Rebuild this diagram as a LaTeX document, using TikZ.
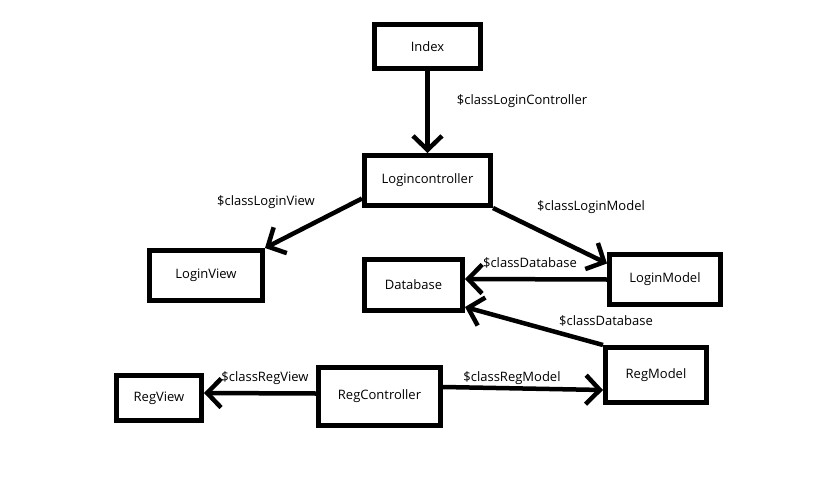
\documentclass[tikz,border=0pt]{standalone}
\usepackage{fontspec}
\setmainfont{Open Sans}
\usetikzlibrary{arrows.meta,calc}
\begin{document}
\begin{tikzpicture}[x=1pt,y=-1pt,
  box/.style={draw,line width=5pt,inner sep=0pt,font=\fontsize{13}{15}\selectfont},
  lbl/.style={inner sep=0pt,font=\fontsize{13}{15}\selectfont},
  conn/.style={line width=4.5pt,-{Straight Barb[length=14pt,width=29pt,line width=4.5pt]}}]
\useasboundingbox[fill=white] (0,0) rectangle (814,479);
\node[box,minimum width=106pt,minimum height=44pt] (idx) at (427.5,46.5) {Index};
\node[box,minimum width=126pt,minimum height=50pt] (lc) at (427.5,180.5) {Logincontroller};
\node[box,minimum width=113pt,minimum height=50pt] (lv) at (206,275.5) {LoginView};
\node[box,minimum width=98pt,minimum height=51pt] (db) at (413.5,285) {Database};
\node[box,minimum width=111pt,minimum height=50pt] (lm) at (665,279.5) {LoginModel};
\node[box,minimum width=101pt,minimum height=55pt] (rm) at (656,375) {RegModel};
\node[box,minimum width=122pt,minimum height=58pt] (rc) at (379.5,396.5) {RegController};
\node[box,minimum width=85pt,minimum height=45pt] (rv) at (159,398) {RegView};

\draw[conn] (idx.south) -- (lc.north);
\draw[conn] ($(lc.west)+(0,18)$) -- (lv.north east);
\draw[conn] (lc.south east) -- ($(lm.west)+(0,-16)$);
\draw[conn] (lm.west) -- ($(db.east)+(0,-6)$);
\draw[conn] (rm.north west) -- ($(db.east)+(0,22)$);
\draw[conn] ($(rc.west)+(0,-3)$) -- ($(rv.east)+(0,-5)$);
\draw[conn] ($(rc.east)+(0,-9.5)$) -- ($(rm.west)+(0,15)$);

\node[lbl] (l1) at (522,101) {\$classLoginController};
\node[lbl] (l2) at (266,202) {\$classLoginView};
\node[lbl] (l3) at (591,207) {\$classLoginModel};
\node[lbl] (l4) at (530,263) {\$classDatabase};
\node[lbl] (l5) at (606,321) {\$classDatabase};
\node[lbl] (l6) at (265,378) {\$classRegView};
\node[lbl] (l7) at (512,378) {\$classRegModel};
\end{tikzpicture}
\end{document}
